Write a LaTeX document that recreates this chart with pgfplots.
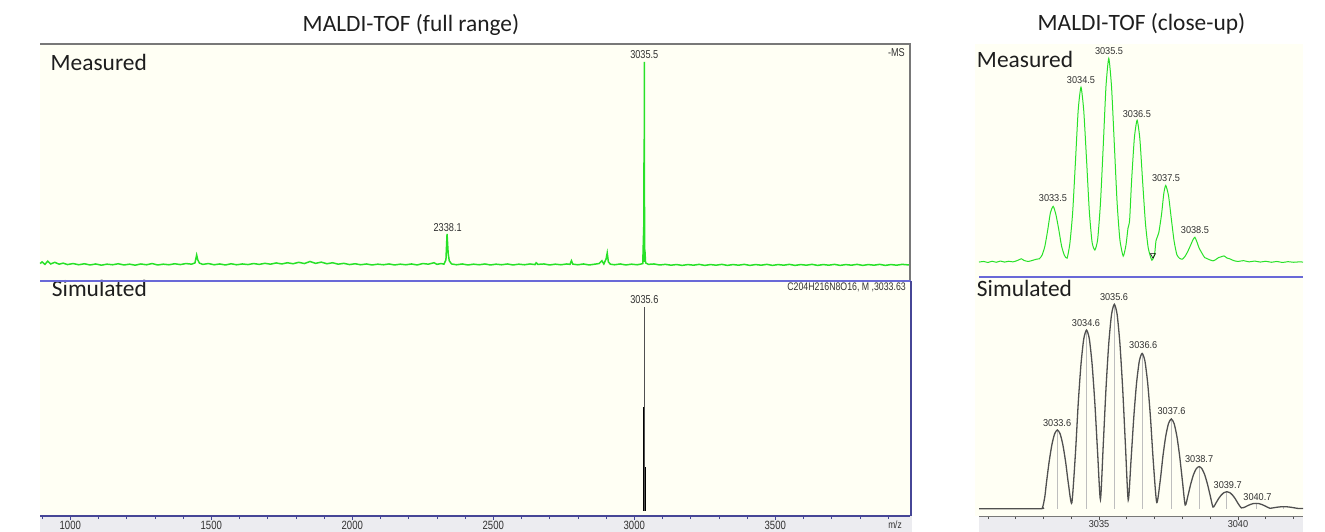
\documentclass[border=0pt]{standalone}
\usepackage{fontspec}
\setmainfont{Carlito}
\newfontfamily\labL[FakeStretch=0.8]{Liberation Sans}
\newfontfamily\labR[FakeStretch=0.92]{Liberation Sans}
\usepackage{pgfplots}
\pgfplotsset{compat=1.18}
\definecolor{cream}{RGB}{255,255,244}
\definecolor{strip}{RGB}{236,236,240}
\definecolor{fblue}{RGB}{70,70,150}
\definecolor{dblue}{RGB}{105,105,215}
\definecolor{msgreen}{RGB}{40,225,40}
\definecolor{simgray}{RGB}{80,80,80}
\definecolor{stick}{RGB}{190,190,190}
\definecolor{lblgray}{RGB}{50,50,50}
\definecolor{framegray}{RGB}{120,120,120}
\definecolor{txt}{RGB}{30,30,30}
\pgfplotsset{
  base/.style={scale only axis, anchor=south west, clip=false},
  meas/.style={base, axis lines=none, xtick=\empty, ytick=\empty},
  sim/.style={base, axis x line*=bottom, axis y line*=left, ytick=\empty,
    y axis line style={draw=none},
    tick align=outside, major tick length=4bp, minor tick length=3bp},
}
\newcommand{\pl}{\labL\fontsize{11.5}{12}\selectfont}
\newcommand{\pr}{\labR\fontsize{10}{11}\selectfont}
\newcommand{\bigf}{\fontsize{23.5}{25}\selectfont}
\begin{document}
\begin{tikzpicture}
\useasboundingbox (0,0) rectangle (1325bp,532bp);
% panel backgrounds
\fill[cream] (40bp,16bp) rectangle (910bp,488bp);
\fill[cream] (975bp,16bp) rectangle (1303bp,488bp);
\fill[strip] (40bp,0bp) rectangle (912bp,16bp);
\fill[strip] (979bp,0bp) rectangle (1303bp,16bp);
% titles
\node[anchor=base, text=txt, font=\bigf] at (411bp,500bp) {MALDI-TOF (full range)};
\node[anchor=base, text=txt, font=\bigf] at (1141.5bp,501.4bp) {MALDI-TOF (close-up)};

% ---------- left: measured full range ----------
\begin{axis}[meas, at={(40bp,251bp)}, width=870bp, height=237bp,
  xmin=892.5, xmax=3977.7, ymin=-7.35, ymax=108.8]
\addplot[msgreen, line width=1.5bp] coordinates {
(893,1.2)(900,2.0)(910,0.8)(920,2.4)(930,1.0)(945,1.8)(960,0.9)(975,1.4)(990,0.7)
(1010,1.2)(1030,0.6)(1050,1.1)(1070,0.5)(1090,1.0)(1110,0.4)(1130,0.9)(1150,0.6)
(1170,1.1)(1190,0.5)(1210,0.9)(1230,0.4)(1250,1.0)(1270,0.6)(1290,1.2)(1310,0.5)
(1330,0.9)(1350,0.6)(1370,1.1)(1390,0.7)(1410,1.2)(1430,0.9)(1442,1.5)(1448,5.4)
(1452,3.0)(1458,1.4)(1470,0.8)(1490,1.2)(1510,0.6)(1530,1.0)(1550,0.5)(1570,1.1)
(1590,0.6)(1610,1.0)(1630,0.7)(1650,1.2)(1670,0.8)(1690,1.3)(1710,0.9)(1730,1.5)
(1750,1.0)(1770,1.6)(1790,1.1)(1810,1.8)(1830,1.2)(1850,2.2)(1870,1.3)(1890,1.9)
(1910,1.1)(1930,1.6)(1950,0.9)(1970,1.3)(1990,0.7)(2010,1.1)(2030,0.6)(2050,1.0)
(2070,0.5)(2090,0.9)(2110,0.6)(2130,1.0)(2150,0.5)(2170,0.9)(2190,0.6)(2210,1.0)
(2230,0.5)(2250,1.2)(2270,0.9)(2290,1.6)(2300,0.8)(2315,1.2)(2325,0.9)(2332,3.0)
(2336,15.7)(2340,6.0)(2344,2.5)(2352,1.0)(2370,0.6)(2390,1.0)(2410,0.5)(2430,0.9)
(2450,0.6)(2470,1.0)(2490,0.5)(2510,0.9)(2530,0.6)(2550,1.0)(2570,0.5)(2590,0.9)
(2610,0.6)(2630,1.0)(2648,0.7)(2652,1.6)(2658,0.8)(2680,1.0)(2700,0.5)(2720,0.9)
(2740,0.6)(2760,1.0)(2772,0.8)(2777,2.6)(2782,0.9)(2800,0.6)(2820,1.0)(2840,0.5)
(2860,0.9)(2875,1.2)(2885,2.6)(2892,1.0)(2900,3.5)(2904,6.4)(2908,2.0)(2915,0.9)
(2930,0.6)(2950,1.0)(2970,0.5)(2990,0.9)(3010,0.6)(3025,1.0)(3030,1.2)(3033.4,19)
(3033.9,2)(3034.4,53)(3034.9,4)(3035.5,100)(3036.0,3)(3036.4,29)(3036.9,2)(3037.5,8)
(3040,1.5)(3050,0.8)(3070,1.0)(3090,0.5)(3110,0.8)(3130,0.4)(3150,0.7)(3170,0.3)
(3190,0.7)(3210,0.4)(3230,0.8)(3250,0.3)(3270,0.7)(3290,0.4)(3310,0.8)(3330,0.3)
(3350,0.7)(3370,0.4)(3390,0.8)(3410,0.3)(3430,0.7)(3450,0.4)(3470,0.8)(3490,0.3)
(3510,0.7)(3530,0.4)(3550,0.8)(3570,0.3)(3590,0.7)(3610,0.4)(3630,0.8)(3650,0.3)
(3670,0.7)(3690,0.4)(3710,0.8)(3730,0.3)(3750,0.7)(3770,0.4)(3790,0.8)(3810,0.3)
(3830,0.7)(3850,0.4)(3870,0.8)(3890,0.3)(3910,0.7)(3930,0.4)(3950,0.8)(3975,0.5)};
\node[font=\pl, text=lblgray, inner sep=0] at (axis cs:3035.5,103.4) {3035.5};
\node[font=\pl, text=lblgray, inner sep=0] at (axis cs:2338.1,18.6) {2338.1};
\node[font=\pl, text=lblgray, inner sep=0, anchor=east] at (axis cs:3960,104.4) {-MS};
\node[font=\bigf, text=txt, inner sep=0, anchor=base west] at (axis cs:929.7,95.7) {Measured};
\end{axis}

% ---------- left: simulated full range ----------
\begin{axis}[sim, at={(40bp,16bp)}, width=870bp, height=235bp,
  xmin=892.5, xmax=3977.7, ymin=-2.45, ymax=112.7,
  x axis line style={fblue, line width=1.2bp},
  xtick={1000,1500,2000,2500,3000,3500},
  xticklabels={1000,1500,2000,2500,3000,3500},
  minor xtick={900,1000,...,3900},
  tick style={fblue, line width=0.7bp},
  xticklabel style={font=\labL\fontsize{12}{12}\selectfont, text=lblgray, anchor=center, yshift=-5bp}]
\addplot[ycomb, black, line width=1.3bp] coordinates {
(3033.0,38.5)(3034.0,38.5)(3034.8,51)(3035.6,51)(3036.4,51)(3037.3,21.6)(3038.2,21.6)};
\addplot[ycomb, simgray, line width=0.7bp] coordinates {(3035.6,100)};
\node[font=\pl, text=lblgray, inner sep=0] at (axis cs:3035.6,103.4) {3035.6};
\node[font=\labL\fontsize{11}{11}\selectfont, text=lblgray, inner sep=0, anchor=east] at (axis cs:3963.5,109.8) {C204H216N8O16, M ,3033.63};
\node[font=\bigf, text=txt, inner sep=0, anchor=base west] at (axis cs:934,105.0) {Simulated};
\end{axis}

% ---------- right: measured close-up ----------
\begin{axis}[meas, at={(979bp,255bp)}, width=324bp, height=233bp,
  xmin=3030.68, xmax=3042.34, ymin=-6.68, ymax=106.98]
\addplot[msgreen, line width=1bp, smooth, tension=0.35] coordinates {
(3030.68,0.6)(3030.85,0.9)(3031.0,0.4)(3031.15,1.0)(3031.3,0.5)(3031.45,1.1)(3031.6,0.6)
(3031.75,1.0)(3031.9,0.7)(3032.05,1.3)(3032.2,2.2)(3032.3,1.4)(3032.45,0.9)(3032.6,1.4)
(3032.75,2.0)(3032.85,2.2)(3032.95,4.0)(3033.05,8.3)(3033.15,16.0)(3033.25,24.7)
(3033.35,27.8)(3033.45,23.6)(3033.55,16.5)(3033.65,8.5)(3033.75,4.0)(3033.85,2.5)
(3033.95,9.7)(3034.05,24.7)(3034.15,49.4)(3034.25,74.8)(3034.35,85.9)(3034.45,74.3)
(3034.55,50.5)(3034.65,25.3)(3034.75,10.2)(3034.85,6.5)(3034.95,11.6)(3035.05,29.2)
(3035.15,57.0)(3035.25,86.4)(3035.35,100)(3035.45,86.0)(3035.55,58.0)(3035.65,29.5)
(3035.75,11.5)(3035.87,3.5)(3035.97,9)(3036.04,17)(3036.1,21)(3036.17,40)(3036.27,61)
(3036.37,69.8)(3036.47,60.5)(3036.57,39.5)(3036.67,19.5)(3036.77,7.5)(3036.9,1.5)
(3037.0,4.6)(3037.05,11)(3037.15,15)(3037.25,24)(3037.33,34)(3037.4,38)(3037.5,33)
(3037.6,21.8)(3037.7,10.9)(3037.8,4.2)(3037.9,2.4)(3038.0,2.0)(3038.1,3.5)(3038.2,6)
(3038.3,9)(3038.38,11.5)(3038.45,12.7)(3038.52,10.5)(3038.6,7.5)(3038.7,5)(3038.8,2.8)
(3038.9,2.2)(3039.0,1.6)(3039.1,1.2)(3039.2,1.8)(3039.3,2.8)(3039.4,3.2)(3039.5,3.6)
(3039.6,2.6)(3039.7,2.2)(3039.85,1.3)(3040.0,0.9)(3040.2,1.3)(3040.4,0.7)(3040.6,1.1)
(3040.8,0.6)(3041.0,1.0)(3041.2,0.5)(3041.4,0.9)(3041.6,0.4)(3041.8,0.8)(3042.0,0.5)
(3042.2,0.7)(3042.34,0.6)};
\addplot[only marks, mark=triangle, mark size=3bp, mark options={rotate=180, black, line width=0.6bp}] coordinates {(3036.94,4.0)};
\node[font=\pr, text=lblgray, inner sep=0] at (axis cs:3033.34,31.9) {3033.5};
\node[font=\pr, text=lblgray, inner sep=0] at (axis cs:3034.35,89.4) {3034.5};
\node[font=\pr, text=lblgray, inner sep=0] at (axis cs:3035.36,103.3) {3035.5};
\node[font=\pr, text=lblgray, inner sep=0] at (axis cs:3036.36,72.8) {3036.5};
\node[font=\pr, text=lblgray, inner sep=0] at (axis cs:3037.41,41.6) {3037.5};
\node[font=\pr, text=lblgray, inner sep=0] at (axis cs:3038.45,16.2) {3038.5};
\node[font=\bigf, text=txt, inner sep=0, anchor=base west] at (axis cs:3030.6,95.3) {Measured};
\end{axis}

% ---------- right: simulated close-up ----------
\begin{axis}[sim, at={(979bp,16bp)}, width=324bp, height=239bp,
  xmin=3030.68, xmax=3042.34, ymin=-3.57, ymax=113.36,
  x axis line style={framegray, line width=0.8bp},
  xtick={3035,3040}, xticklabels={3035,3040},
  minor xtick={3031,3032,...,3042},
  tick style={simgray, line width=0.7bp},
  xticklabel style={font=\pr, text=lblgray, anchor=center, yshift=-4bp}]
\addplot[ycomb, stick, line width=0.8bp] coordinates {
(3033.5,38.5)(3034.55,87.4)(3035.55,100)(3036.55,76)(3037.6,43.9)(3038.6,20.6)(3039.6,8.3)(3040.65,2.6)(3041.65,1.0)};
\addplot[simgray, line width=1.3bp, smooth, tension=0.4] coordinates {
(3030.68,0)(3032.85,0)(3032.97,0.8)(3033.05,6.0)(3033.1,11.9)(3033.2,22.6)(3033.3,31.1)
(3033.4,36.6)(3033.5,38.5)(3033.6,36.6)(3033.7,31.1)(3033.8,22.6)(3033.9,11.9)
(3034.02,2.8)(3034.15,27.0)(3034.25,51.4)(3034.35,70.7)(3034.45,83.1)
(3034.55,87.4)(3034.65,83.1)(3034.75,70.7)(3034.85,51.4)(3034.95,27.0)
(3035.05,4.5)(3035.15,30.9)(3035.25,58.8)(3035.35,80.9)(3035.45,95.1)
(3035.55,100)(3035.65,95.1)(3035.75,80.9)(3035.85,58.8)(3035.95,30.9)
(3036.05,4.2)(3036.15,23.5)(3036.25,44.7)(3036.35,61.5)(3036.45,72.3)
(3036.55,76)(3036.65,72.3)(3036.75,61.5)(3036.85,44.7)(3036.95,23.5)
(3037.075,3.0)(3037.2,13.6)(3037.3,25.8)(3037.4,35.5)(3037.5,41.7)
(3037.6,43.9)(3037.7,41.7)(3037.8,35.5)(3037.9,25.8)(3038.0,13.6)
(3038.1,1.8)(3038.2,6.4)(3038.3,12.1)(3038.4,16.7)(3038.5,19.6)(3038.6,20.6)
(3038.7,19.6)(3038.8,16.7)(3038.9,12.1)(3039.0,6.4)(3039.1,0.8)
(3039.2,2.6)(3039.3,4.9)(3039.4,6.7)(3039.5,7.9)(3039.6,8.3)(3039.7,7.9)(3039.8,6.7)
(3039.9,4.9)(3040.0,2.6)(3040.12,0.4)(3040.25,0.8)(3040.35,1.5)(3040.45,2.1)
(3040.55,2.5)(3040.65,2.6)(3040.75,2.5)(3040.85,2.1)(3040.95,1.5)(3041.05,0.8)(3041.15,0.2)
(3041.3,0.5)(3041.45,0.8)(3041.55,0.95)(3041.65,1.0)(3041.75,0.95)(3041.85,0.8)(3042.0,0.5)
(3042.15,0.15)(3042.34,0.1)};
\node[font=\pr, text=lblgray, inner sep=0] at (axis cs:3033.49,41.8) {3033.6};
\node[font=\pr, text=lblgray, inner sep=0] at (axis cs:3034.53,90.7) {3034.6};
\node[font=\pr, text=lblgray, inner sep=0] at (axis cs:3035.54,103.7) {3035.6};
\node[font=\pr, text=lblgray, inner sep=0] at (axis cs:3036.59,80.1) {3036.6};
\node[font=\pr, text=lblgray, inner sep=0] at (axis cs:3037.61,47.9) {3037.6};
\node[font=\pr, text=lblgray, inner sep=0] at (axis cs:3038.6,24.2) {3038.7};
\node[font=\pr, text=lblgray, inner sep=0] at (axis cs:3039.63,11.6) {3039.7};
\node[font=\pr, text=lblgray, inner sep=0] at (axis cs:3040.7,5.9) {3040.7};
\node[font=\bigf, text=txt, inner sep=0, anchor=base west] at (axis cs:3030.6,103.8) {Simulated};
\end{axis}

% frame lines
\draw[framegray, line width=1.2bp] (40bp,488bp) -- (910bp,488bp) -- (910bp,251bp);
\draw[dblue, line width=1.2bp] (40bp,251bp) -- (911bp,251bp);
\draw[fblue, line width=1.2bp] (911bp,251bp) -- (911bp,16bp);
\draw[dblue, line width=1.2bp] (979bp,255bp) -- (1303bp,255bp);
\node[font=\labL\fontsize{10.5}{11}\selectfont, text=lblgray] at (895bp,7bp) {m/z};
\end{tikzpicture}
\end{document}
